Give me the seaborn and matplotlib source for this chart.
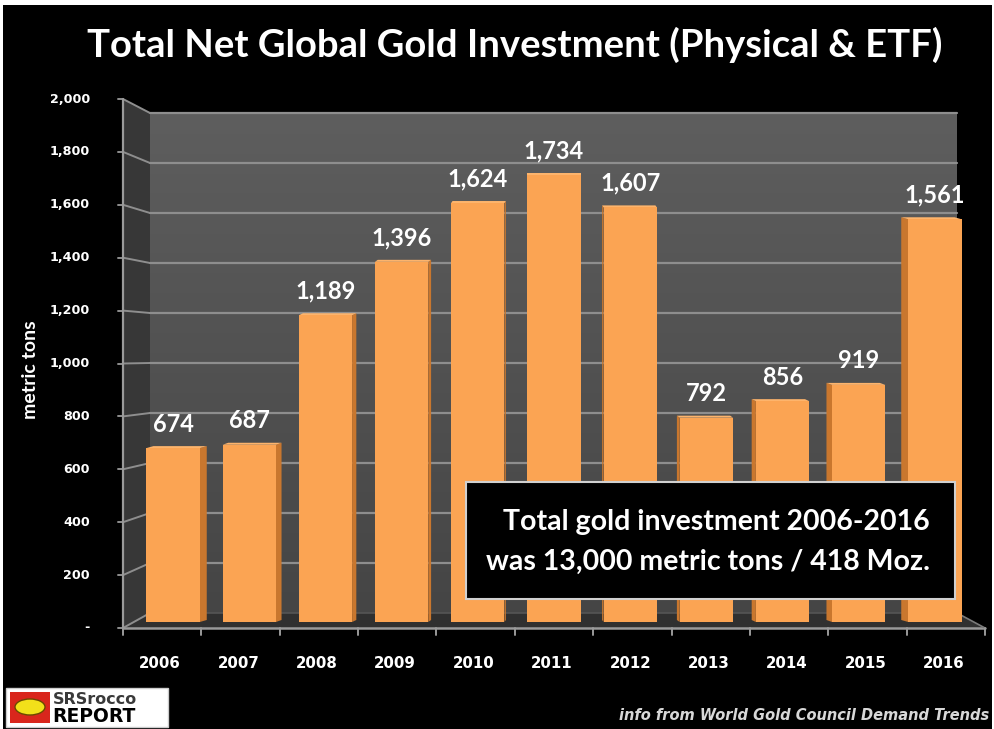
import numpy as np
import pandas as pd
import matplotlib
matplotlib.use("Agg")
import matplotlib.pyplot as plt
import seaborn as sns
from matplotlib.patches import Polygon, Rectangle, Ellipse

# ---------------- data ----------------
years = ["2006", "2007", "2008", "2009", "2010", "2011", "2012", "2013", "2014", "2015", "2016"]
tons = [674, 687, 1189, 1396, 1624, 1734, 1607, 792, 856, 919, 1561]
ytick_values = [0, 200, 400, 600, 800, 1000, 1200, 1400, 1600, 1800, 2000]
ytick_labels = ["-", "200", "400", "600", "800", "1,000", "1,200", "1,400", "1,600", "1,800", "2,000"]
title = "Total Net Global Gold Investment (Physical & ETF)"
ylabel = "metric tons"
note_lines = ["Total gold investment 2006-2016", "was 13,000 metric tons / 418 Moz."]
source = "info from World Gold Council Demand Trends"

df = pd.DataFrame({"year": years, "tons": tons})

sns.set_theme(style="white")
plt.rcParams["font.family"] = ["Lato", "DejaVu Sans"]

W, H = 995, 729
fig = plt.figure(figsize=(W / 100, H / 100), dpi=100, facecolor="white")

# ---------- background / 3D frame (pixel coords) ----------
bg = fig.add_axes([0, 0, 1, 1], zorder=0)
bg.set_xlim(0, W)
bg.set_ylim(H, 0)
bg.axis("off")
bg.add_patch(Rectangle((3, 5), W - 6, H - 5, facecolor="black", edgecolor="none"))

# geometry
FX0, FX1, FY0, FYT = 123, 985, 628, 99      # front frame
BX0, BX1, BY0, BYT = 150, 957, 613, 113     # back wall
vmax = 2000

def front_y(v):
    return FY0 - (FY0 - FYT) * v / vmax

def back_y(v):
    return BY0 - (BY0 - BYT) * v / vmax

grad = np.linspace(0, 1, 256).reshape(-1, 1)
cmap = matplotlib.colors.LinearSegmentedColormap.from_list("wall", ["#5e5e5e", "#454545"])
bg.imshow(grad, extent=(BX0, BX1, BY0, BYT), cmap=cmap, aspect="auto", zorder=1)
# side wall
bg.add_patch(Polygon([(FX0, FYT), (BX0, BYT), (BX0, BY0), (FX0, FY0)],
                     closed=True, facecolor="#373737", edgecolor="none", zorder=1))
# floor
bg.add_patch(Polygon([(BX0, BY0), (BX1, BY0), (FX1, FY0), (FX0, FY0)],
                     closed=True, facecolor="#303030", edgecolor="none", zorder=1))

grid_c = "#8e8e8e"
for v in ytick_values:
    by = back_y(v)
    fy = front_y(v)
    if v > 0:
        bg.plot([BX0, BX1], [by, by], color=grid_c, lw=1.6, zorder=2)
    bg.plot([FX0, BX0], [fy, by], color=grid_c, lw=1.4, zorder=2)
    bg.plot([FX0 - 5, FX0], [fy, fy], color=grid_c, lw=1.4, zorder=2)
bg.plot([BX0, BX1], [BY0, BY0], color="#555555", lw=1.2, zorder=2)
bg.plot([FX0, FX0], [FYT, FY0], color="#9a9a9a", lw=1.6, zorder=3)
bg.plot([FX0, FX1], [FY0, FY0], color="#9a9a9a", lw=1.8, zorder=3)
bg.plot([BX1, FX1], [BY0, FY0], color="#7a7a7a", lw=1.2, zorder=3)
n = len(years)
step = (FX1 - FX0) / n
for k in range(n + 1):
    x = FX0 + k * step
    bg.plot([x, x], [FY0, FY0 + 7], color="#9a9a9a", lw=1.4, zorder=3)

# ---------- bars (seaborn) ----------
AX_L, AX_R, AX_B, AX_T = 135, 973, 622, 106
ax = fig.add_axes([AX_L / W, (H - AX_B) / H, (AX_R - AX_L) / W, (AX_B - AX_T) / H], zorder=1)
ax.patch.set_alpha(0)
orange = "#fba453"
sns.barplot(data=df, x="year", y="tons", color=orange, saturation=1, width=0.7,
            edgecolor="none", ax=ax, zorder=3)
ax.set_xlim(-0.5, n - 0.5)
ax.set_ylim(0, vmax)
ax.axis("off")

px_x = n / (AX_R - AX_L)
px_y = vmax / (AX_B - AX_T)
side_c = "#c9772e"
top_c = "#fdb46c"
for i, p in enumerate(ax.patches):
    x0, w, h = p.get_x(), p.get_width(), p.get_height()
    dxp = -1.4 * (i - (n - 1) / 2)
    dx = dxp * px_x
    dy = 2 * px_y
    xe = x0 + w if dx >= 0 else x0
    ax.add_patch(Polygon([(xe, 0), (xe, h), (xe + dx, h + dy), (xe + dx, dy)],
                         closed=True, facecolor=side_c, edgecolor="none", zorder=2))
    ax.add_patch(Polygon([(x0, h), (x0 + w, h), (x0 + w + dx, h + dy), (x0 + dx, h + dy)],
                         closed=True, facecolor=top_c, edgecolor="none", zorder=2))

ax.bar_label(ax.containers[0], labels=[f"{v:,}" for v in tons], padding=9,
             color="white", fontsize=17, fontweight="bold", family=["Lato", "DejaVu Sans"])

# ---------- overlay: text, box, logo ----------
ov = fig.add_axes([0, 0, 1, 1], zorder=5)
ov.patch.set_alpha(0)
ov.set_xlim(0, W)
ov.set_ylim(H, 0)
ov.axis("off")

ov.text(515, 45, title, color="white", fontsize=27.5, fontweight="bold",
        ha="center", va="center")

for v, lab in zip(ytick_values, ytick_labels):
    ov.text(90, front_y(v), lab, color="white", fontsize=9.2, fontweight="bold",
            ha="right", va="center", family="DejaVu Sans")

ov.text(30, 370, ylabel, color="white", fontsize=14, fontweight="bold",
        rotation=90, ha="center", va="center")

for i, yr in enumerate(years):
    ov.text(FX0 + (i + 0.5) * step - 2, 663, yr, color="white", fontsize=10.8,
            fontweight="bold", ha="center", va="center", family="DejaVu Sans")

ov.add_patch(Rectangle((466, 482), 489, 117, facecolor="black", edgecolor="#d0d0d0", lw=1.5))
ov.text(930, 522, note_lines[0], color="white", fontsize=20.5, fontweight="bold",
        ha="right", va="center")
ov.text(930, 562, note_lines[1], color="white", fontsize=20.5, fontweight="bold",
        ha="right", va="center")

ov.text(989, 716, source, color="#d8d8d8", fontsize=10.5, fontweight="bold",
        fontstyle="italic", ha="right", va="center", family="DejaVu Sans")

# logo
ov.add_patch(Rectangle((6, 688), 162, 39, facecolor="white", edgecolor="#cccccc", lw=1))
ov.add_patch(Rectangle((10, 692), 40, 31, facecolor="#d9261c", edgecolor="none"))
ov.add_patch(Ellipse((30, 707), 30, 16, facecolor="#f2e01a", edgecolor="#6b4a00", lw=1))
ov.text(53, 699, "SRSrocco", color="#3a3a3a", fontsize=11.5, fontweight="bold",
        ha="left", va="center", family="DejaVu Sans")
ov.text(52, 716, "REPORT", color="black", fontsize=13.5, fontweight="heavy",
        ha="left", va="center", family="DejaVu Sans")

fig.savefig("out.png", dpi=100, facecolor=fig.get_facecolor())
